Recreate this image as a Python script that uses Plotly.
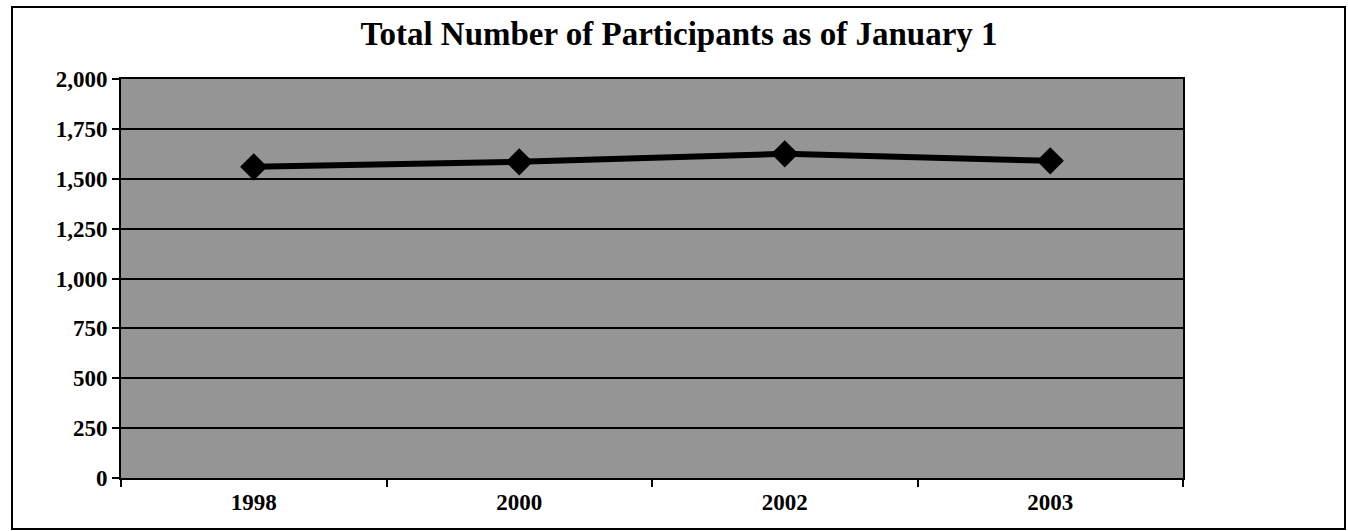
import plotly.graph_objects as go

# Participants counted on January 1 of each year
years = ["1998", "2000", "2002", "2003"]
participants = [1560, 1585, 1625, 1590]

y_ticks = [0, 250, 500, 750, 1000, 1250, 1500, 1750, 2000]
y_tick_text = ["0", "250", "500", "750", "1,000", "1,250", "1,500", "1,750", "2,000"]

serif = "Liberation Serif, Times New Roman, serif"
tick_font = dict(family=serif, size=23, color="black", weight="bold")

fig = go.Figure()
fig.add_trace(go.Scatter(
    x=years,
    y=participants,
    mode="lines+markers",
    line=dict(color="black", width=6),
    marker=dict(symbol="diamond", size=21, color="black"),
    showlegend=False,
    hoverinfo="x+y",
))

fig.update_layout(
    width=1348,
    height=531,
    margin=dict(l=121, r=165, t=79, b=53),
    paper_bgcolor="white",
    plot_bgcolor="#959595",
    title=dict(
        text="<b>Total Number of Participants as of January 1</b>",
        x=679 / 1348,
        xanchor="center",
        y=1 - 33 / 531,
        yanchor="middle",
        font=dict(family=serif, size=33, color="black"),
    ),
    xaxis=dict(
        type="category",
        range=[-0.5, len(years) - 0.5],
        tickson="boundaries",
        ticks="outside",
        ticklen=7,
        tickwidth=2,
        tickcolor="black",
        showline=True,
        linecolor="black",
        linewidth=2,
        mirror=True,
        showgrid=False,
        tickfont=tick_font,
        ticklabelstandoff=2,
    ),
    yaxis=dict(
        range=[0, 2000],
        tickvals=y_ticks,
        ticktext=y_tick_text,
        ticks="outside",
        ticklen=7,
        tickwidth=2,
        tickcolor="black",
        showline=True,
        linecolor="black",
        linewidth=2,
        mirror=True,
        showgrid=True,
        gridcolor="black",
        gridwidth=2,
        zeroline=False,
        tickfont=tick_font,
    ),
    shapes=[
        # outer frame around the whole chart
        dict(
            type="rect",
            xref="paper", yref="paper",
            x0=(12 - 121) / 1062, x1=(1345 - 121) / 1062,
            y0=(478 - 529) / 399, y1=(478 - 7) / 399,
            line=dict(color="black", width=2),
            fillcolor="rgba(0,0,0,0)",
            layer="below",
        )
    ],
)

fig.write_html("out.html")
